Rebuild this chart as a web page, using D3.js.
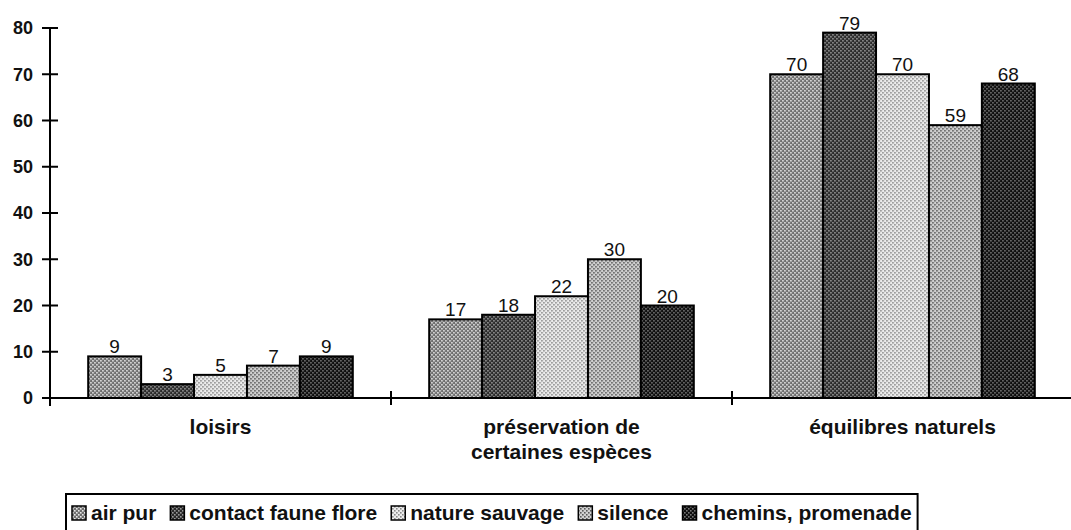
<!DOCTYPE html>
<html>
<head>
<meta charset="utf-8">
<script src="https://cdn.jsdelivr.net/npm/d3@7"></script>
<style>
  body { margin: 0; background: #fff; }
  svg { display: block; font-family: "Liberation Sans", Arial, sans-serif; }
</style>
</head>
<body>
<script>
const categories = ["loisirs", "préservation de\ncertaines espèces", "équilibres naturels"];
const seriesNames = ["air pur", "contact faune flore", "nature sauvage", "silence", "chemins, promenade"];
const values = [
  [9, 3, 5, 7, 9],      // loisirs
  [17, 18, 22, 30, 20], // préservation
  [70, 79, 70, 59, 68]  // équilibres
];
const yTicks = [0, 10, 20, 30, 40, 50, 60, 70, 80];

// halftone look: background grey + dots
const fills = [
  { bg: "#6e6e6e", dot: "#e8e8e8" },
  { bg: "#2a2a2a", dot: "#999" },
  { bg: "#ececec", dot: "#8a8a8a" },
  { bg: "#d0d0d0", dot: "#5a5a5a" },
  { bg: "#0e0e0e", dot: "#777" }
];

const W = 1071, H = 530;
const svg = d3.select("body").append("svg").attr("width", W).attr("height", H);

const defs = svg.append("defs");
fills.forEach((f, i) => {
  const p = defs.append("pattern")
    .attr("id", "pat" + i)
    .attr("patternUnits", "userSpaceOnUse")
    .attr("width", 4).attr("height", 4);
  p.append("rect").attr("width", 4).attr("height", 4).attr("fill", f.bg);
  p.append("rect").attr("x", 0).attr("y", 0).attr("width", 1.6).attr("height", 1.6).attr("fill", f.dot);
  p.append("rect").attr("x", 2).attr("y", 2).attr("width", 1.6).attr("height", 1.6).attr("fill", f.dot);
});

const x0 = 50, yBase = 398;
const x = d3.scaleBand().domain(categories).range([x0, 1073]).paddingInner(0.224).paddingOuter(0.112);
const xs = d3.scaleBand().domain(seriesNames).range([0, x.bandwidth()]);
const y = d3.scaleLinear().domain([0, 80]).range([yBase, 28]);

// bars
const groups = svg.append("g").selectAll("g")
  .data(values)
  .join("g")
  .attr("transform", (d, i) => `translate(${x(categories[i])},0)`);

groups.selectAll("rect")
  .data(d => d)
  .join("rect")
  .attr("x", (d, j) => xs(seriesNames[j]))
  .attr("y", d => y(d))
  .attr("width", xs.bandwidth())
  .attr("height", d => yBase - y(d))
  .attr("fill", (d, j) => `url(#pat${j})`)
  .attr("stroke", "#000")
  .attr("stroke-width", 2);

groups.selectAll("text")
  .data(d => d)
  .join("text")
  .attr("x", (d, j) => xs(seriesNames[j]) + xs.bandwidth() / 2)
  .attr("y", d => y(d) - 3)
  .attr("text-anchor", "middle")
  .attr("font-size", 19)
  .attr("fill", "#111")
  .text(d => d);

// y axis
const yAxis = svg.append("g").attr("transform", `translate(${x0},0)`);
yAxis.append("line").attr("y1", y(80)).attr("y2", yBase + 8).attr("stroke", "#000").attr("stroke-width", 2);
yAxis.selectAll("line.t").data(yTicks).join("line").attr("class", "t")
  .attr("x1", -8).attr("x2", 8)
  .attr("y1", d => y(d)).attr("y2", d => y(d))
  .attr("stroke", "#000").attr("stroke-width", 2);
yAxis.selectAll("text").data(yTicks).join("text")
  .attr("x", -17).attr("y", d => y(d)).attr("dy", "0.36em")
  .attr("text-anchor", "end")
  .attr("font-size", 18).attr("font-weight", "bold").attr("fill", "#111")
  .text(d => d);

// x axis
const xAxis = svg.append("g");
xAxis.append("line").attr("x1", x0).attr("x2", W).attr("y1", yBase).attr("y2", yBase)
  .attr("stroke", "#000").attr("stroke-width", 2);
const step = x.step();
xAxis.selectAll("line.t").data(categories.slice(1)).join("line").attr("class", "t")
  .attr("x1", d => x(d) - x.paddingInner() * step / 2)
  .attr("x2", d => x(d) - x.paddingInner() * step / 2)
  .attr("y1", yBase - 7).attr("y2", yBase + 7)
  .attr("stroke", "#000").attr("stroke-width", 2);

xAxis.selectAll("text").data(categories).join("text")
  .attr("x", d => x(d) + x.bandwidth() / 2)
  .attr("y", 434)
  .attr("text-anchor", "middle")
  .attr("font-size", 21).attr("font-weight", "bold").attr("fill", "#111")
  .selectAll("tspan")
  .data(d => d.split("\n"))
  .join("tspan")
  .attr("x", function () { return this.parentNode.getAttribute("x"); })
  .attr("dy", (d, i) => i ? 25 : 0)
  .text(d => d);

// legend, laid out from measured text widths
const legend = svg.append("g");
const box = legend.append("rect")
  .attr("fill", "#fff").attr("stroke", "#000").attr("stroke-width", 2);
let lx = 0;
seriesNames.forEach((name, i) => {
  legend.append("rect").attr("x", lx).attr("y", 506).attr("width", 14).attr("height", 14)
    .attr("fill", `url(#pat${i})`).attr("stroke", "#000").attr("stroke-width", 1.5);
  const t = legend.append("text").attr("x", lx + 19).attr("y", 520)
    .attr("font-size", 21).attr("font-weight", "bold").attr("fill", "#111").text(name);
  lx += 19 + t.node().getComputedTextLength() + (i < seriesNames.length - 1 ? 14 : 0);
});
const legLeft = 72;
legend.selectAll("rect:not(:first-child), text").attr("transform", `translate(${legLeft},0)`);
box.attr("x", legLeft - 6).attr("y", 494).attr("width", lx + 12).attr("height", 40);
</script>
</body>
</html>
